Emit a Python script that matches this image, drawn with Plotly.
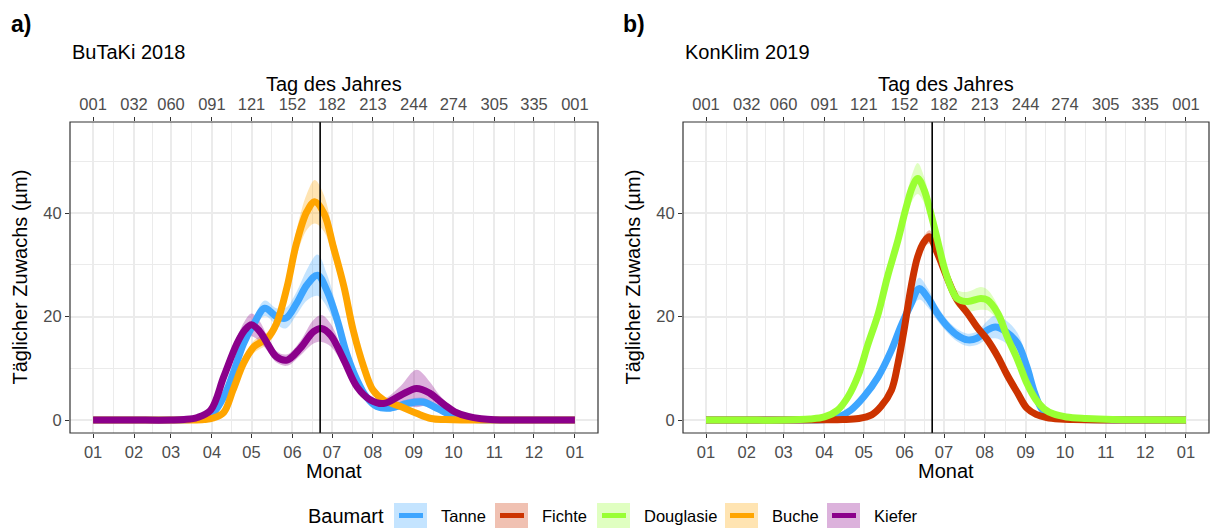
import plotly.graph_objects as go

# ---- axis labelling -------------------------------------------------------
month_start_doy = [1, 32, 60, 91, 121, 152, 182, 213, 244, 274, 305, 335, 366]
month_labels = ["01", "02", "03", "04", "05", "06", "07", "08", "09", "10", "11", "12", "01"]
doy_labels = ["001", "032", "060", "091", "121", "152", "182", "213", "244", "274", "305", "335", "001"]
y_ticks = [0, 20, 40]
y_minor = [10, 30, 50]
solstice_doy = 173

# ---- BuTaKi 2018 ----------------------------------------------------------
tanne18_doy = [1, 30, 60, 75, 85, 92, 100, 107, 115, 123, 131, 140, 147, 155, 163, 171, 178,
               186, 193, 201, 208, 216, 226, 239, 251, 262, 270, 280, 290, 305, 335, 366]
tanne18_mean = [0, 0, 0, 0.1, 0.4, 1.4, 4.5, 9.0, 14.8, 18.7, 21.6, 20.0, 19.7, 22.5, 26.1, 28.0, 25.1,
                19.3, 12.9, 7.7, 4.5, 2.6, 2.3, 3.2, 3.5, 2.2, 1.2, 0.4, 0.1, 0, 0, 0]
tanne18_se = [0, 0, 0, 0.05, 0.1, 0.3, 0.6, 0.8, 1.0, 1.2, 1.5, 1.6, 2.0, 2.2, 3.0, 4.0, 3.2,
              2.0, 1.2, 0.8, 0.6, 0.6, 0.6, 0.8, 0.8, 0.6, 0.4, 0.2, 0.1, 0, 0, 0]

buche18_doy = [1, 30, 60, 75, 85, 92, 100, 107, 115, 123, 133, 140, 148, 155, 163, 169, 176,
               183, 191, 198, 206, 213, 221, 234, 246, 257, 268, 280, 305, 335, 366]
buche18_mean = [0, 0, 0, 0, 0.1, 0.4, 1.5, 5.8, 11.0, 14.2, 15.8, 18.7, 25.8, 34.1, 40.3, 42.2, 39.9,
                33.5, 25.8, 17.4, 10.3, 5.8, 3.9, 2.6, 1.3, 0.3, 0.1, 0, 0, 0, 0]
buche18_se = [0, 0, 0, 0, 0.05, 0.1, 0.3, 0.6, 1.0, 1.2, 1.2, 1.5, 2.0, 2.5, 3.5, 4.2, 3.5,
              2.5, 1.8, 1.2, 0.8, 0.6, 0.5, 0.5, 0.3, 0.1, 0.05, 0, 0, 0, 0]

kiefer18_doy = [1, 30, 60, 70, 80, 90, 100, 110, 116, 121, 127, 133, 140, 148, 158, 168, 174,
                181, 191, 201, 211, 221, 234, 246, 256, 262, 268, 275, 285, 295, 305, 335, 366]
kiefer18_mean = [0, 0, 0, 0.1, 0.5, 1.9, 8.4, 14.8, 17.4, 18.4, 17.2, 14.8, 12.2, 11.6, 13.9, 17.1, 17.7,
                 16.4, 11.6, 6.4, 3.9, 3.2, 4.8, 6.1, 5.2, 4.0, 2.8, 1.6, 0.7, 0.25, 0.05, 0, 0]
kiefer18_se = [0, 0, 0, 0, 0.1, 0.3, 0.8, 1.2, 1.8, 2.2, 2.0, 1.4, 1.1, 1.1, 1.4, 2.3, 2.6,
               2.2, 1.2, 0.8, 0.7, 0.9, 1.8, 3.6, 2.2, 1.3, 0.8, 0.5, 0.2, 0.1, 0, 0, 0]

# ---- KonKlim 2019 ---------------------------------------------------------
tanne19_doy = [1, 30, 60, 80, 92, 101, 111, 121, 132, 142, 149, 157, 163, 170, 177, 185, 192,
               200, 207, 215, 221, 229, 238, 245, 251, 257, 266, 280, 300, 335, 366]
tanne19_mean = [0, 0, 0, 0, 0.1, 0.5, 1.9, 4.5, 8.4, 13.5, 18.0, 22.5, 25.4, 23.5, 20.6, 18.0, 16.4,
                15.5, 15.8, 17.4, 18.0, 17.1, 14.8, 10.3, 5.2, 1.9, 0.6, 0.2, 0.05, 0, 0]
tanne19_se = [0, 0, 0, 0, 0.05, 0.1, 0.2, 0.4, 0.6, 0.8, 1.0, 1.5, 2.1, 1.8, 1.4, 1.2, 1.2,
              1.2, 1.3, 1.8, 2.2, 2.2, 2.0, 1.5, 0.8, 0.4, 0.2, 0.1, 0, 0, 0]

fichte19_doy = [1, 30, 60, 91, 105, 117, 127, 134, 142, 147, 152, 157, 162, 167, 171, 177, 185,
                192, 200, 207, 215, 223, 230, 238, 245, 252, 260, 270, 280, 300, 335, 366]
fichte19_mean = [0, 0, 0, 0.05, 0.1, 0.3, 1.0, 2.6, 5.8, 11.0, 18.0, 25.8, 31.6, 34.5, 35.4, 32.2, 27.1,
                 23.2, 20.6, 18.0, 15.5, 12.2, 8.7, 5.2, 2.3, 1.1, 0.5, 0.2, 0.1, 0, 0, 0]
fichte19_se = [0, 0, 0, 0, 0.05, 0.1, 0.2, 0.3, 0.5, 0.6, 0.7, 0.8, 1.0, 1.2, 1.3, 1.1, 0.9,
               0.8, 0.8, 0.8, 0.8, 0.8, 0.7, 0.6, 0.4, 0.2, 0.1, 0.05, 0, 0, 0, 0]

douglasie19_doy = [1, 30, 60, 80, 91, 101, 109, 117, 124, 132, 139, 147, 153, 158, 162, 167, 172, 177,
                   182, 187, 192, 200, 210, 215, 223, 230, 238, 245, 252, 258, 265, 275, 290, 310, 330, 366]
douglasie19_mean = [0, 0, 0, 0.2, 0.6, 1.9, 4.5, 8.8, 14.5, 20.6, 27.7, 34.8, 40.9, 45.1, 46.7, 44.4, 39.9, 34.8,
                    29.6, 25.8, 23.5, 22.9, 23.5, 23.2, 20.6, 16.1, 11.6, 7.1, 3.9, 2.2, 1.2, 0.6, 0.3, 0.1, 0.05, 0]
douglasie19_se = [0, 0, 0, 0.05, 0.1, 0.2, 0.4, 0.6, 0.8, 1.0, 1.3, 1.6, 2.0, 2.6, 3.0, 2.5, 1.8, 1.4,
                  1.3, 1.4, 1.6, 1.9, 2.2, 2.0, 1.5, 1.0, 0.7, 0.5, 0.3, 0.2, 0.1, 0.05, 0, 0, 0, 0]

species = ["Tanne", "Fichte", "Douglasie", "Buche", "Kiefer"]
colors = {"Tanne": "#3DA5FF", "Fichte": "#CC3300", "Douglasie": "#99FF33",
          "Buche": "#FFA500", "Kiefer": "#8B008B"}
ribbon_alpha = 0.3

panels = [
    {"xa": "x", "xtop": "x2", "ya": "y", "series": [
        ("Tanne", tanne18_doy, tanne18_mean, tanne18_se),
        ("Buche", buche18_doy, buche18_mean, buche18_se),
        ("Kiefer", kiefer18_doy, kiefer18_mean, kiefer18_se)]},
    {"xa": "x3", "xtop": "x4", "ya": "y2", "series": [
        ("Tanne", tanne19_doy, tanne19_mean, tanne19_se),
        ("Fichte", fichte19_doy, fichte19_mean, fichte19_se),
        ("Douglasie", douglasie19_doy, douglasie19_mean, douglasie19_se)]},
]


def rgba(hex_color, a):
    h = hex_color.lstrip("#")
    r, g, b = int(h[0:2], 16), int(h[2:4], 16), int(h[4:6], 16)
    return f"rgba({r},{g},{b},{a})"


fig = go.Figure()
SPL = dict(shape="spline", smoothing=1.0)

for p in panels:
    # confidence ribbons first, then the mean lines on top
    for name, doy, mean, se in p["series"]:
        upper = [m + s for m, s in zip(mean, se)]
        lower = [m - s for m, s in zip(mean, se)]
        fig.add_trace(go.Scatter(x=doy, y=upper, mode="lines", line=dict(width=0, **SPL),
                                 xaxis=p["xa"], yaxis=p["ya"], showlegend=False, hoverinfo="skip"))
        fig.add_trace(go.Scatter(x=doy, y=lower, mode="lines", line=dict(width=0, **SPL),
                                 fill="tonexty", fillcolor=rgba(colors[name], ribbon_alpha),
                                 xaxis=p["xa"], yaxis=p["ya"], showlegend=False, hoverinfo="skip"))
    for name, doy, mean, se in p["series"]:
        fig.add_trace(go.Scatter(x=doy, y=mean, mode="lines", name=name,
                                 line=dict(color=colors[name], width=7, **SPL),
                                 xaxis=p["xa"], yaxis=p["ya"], showlegend=False))
    # empty trace so that the day-of-year axis on top gets rendered
    fig.add_trace(go.Scatter(x=[month_start_doy[0], month_start_doy[-1]], y=[None, None],
                             mode="lines", xaxis=p["xtop"], yaxis=p["ya"],
                             showlegend=False, hoverinfo="skip"))

W, H = 1212, 529
FONT = "Liberation Sans, Arial, Helvetica, sans-serif"
TICK_COL = "#4D4D4D"
TICK_SIZE = 16.5
GRID = "#EBEBEB"
x_range = [-16.5, 383.5]
y_range = [-2.5, 57.6]

dom_a = [70 / W, 598 / W]
dom_b = [683 / W, 1209 / W]
dom_y = [1 - 433 / H, 1 - 122 / H]

minor_x = [(a + b) / 2 for a, b in zip(month_start_doy[:-1], month_start_doy[1:])]

bottom_axis = dict(range=x_range, tickmode="array", tickvals=month_start_doy, ticktext=month_labels,
                   ticks="outside", ticklen=4, tickwidth=1.2, tickcolor="#333333",
                   tickfont=dict(family=FONT, size=TICK_SIZE, color=TICK_COL),
                   showgrid=True, gridcolor=GRID, gridwidth=1.8, zeroline=False, showline=False,
                   minor=dict(tickvals=minor_x, showgrid=True, gridcolor=GRID, gridwidth=1.2, ticks=""),
                   fixedrange=True)
top_axis = dict(range=x_range, tickmode="array", tickvals=month_start_doy, ticktext=doy_labels,
                ticks="outside", ticklen=4, tickwidth=1.2, tickcolor="#333333",
                tickfont=dict(family=FONT, size=TICK_SIZE, color=TICK_COL),
                showgrid=False, zeroline=False, showline=False, side="top")
y_axis = dict(range=y_range, tickmode="array", tickvals=y_ticks, ticks="outside", ticklen=4,
              tickwidth=1.2, tickcolor="#333333", tickfont=dict(family=FONT, size=TICK_SIZE, color=TICK_COL),
              showgrid=True, gridcolor=GRID, gridwidth=1.8, zeroline=False, showline=False,
              minor=dict(tickvals=y_minor, showgrid=True, gridcolor=GRID, gridwidth=1.2, ticks=""),
              domain=dom_y)

fig.update_layout(
    width=W, height=H, margin=dict(l=0, r=0, t=0, b=0),
    paper_bgcolor="white", plot_bgcolor="white", showlegend=False,
    font=dict(family=FONT, color="black"),
    xaxis=dict(bottom_axis, domain=dom_a, anchor="y"),
    xaxis2=dict(top_axis, overlaying="x", anchor="y"),
    xaxis3=dict(bottom_axis, domain=dom_b, anchor="y2"),
    xaxis4=dict(top_axis, overlaying="x3", anchor="y2"),
    yaxis=dict(y_axis, anchor="x"),
    yaxis2=dict(y_axis, anchor="x3"),
)


def px(x, y):
    return x / W, 1 - y / H


def note(text, x, y, size, xanchor="center", **kw):
    fx, fy = px(x, y)
    return dict(text=text, x=fx, y=fy, xref="paper", yref="paper", xanchor=xanchor,
                yanchor="middle", showarrow=False, font=dict(size=size, family=FONT, color="black"), **kw)


shapes = []
annotations = []

for dom, xa in [(dom_a, "x"), (dom_b, "x3")]:
    # reference line at the summer solstice
    shapes.append(dict(type="line", xref=xa, yref="paper", x0=solstice_doy, x1=solstice_doy,
                       y0=dom_y[0], y1=dom_y[1], line=dict(color="black", width=1.6), layer="above"))
    # panel border
    shapes.append(dict(type="rect", xref="paper", yref="paper", x0=dom[0], x1=dom[1],
                       y0=dom_y[0], y1=dom_y[1], line=dict(color="#333333", width=1.2), layer="above"))
    cx = (dom[0] + dom[1]) / 2 * W
    annotations.append(note("Monat", cx, 471, 20))
    annotations.append(note("Tag des Jahres", cx, 84, 20))

for label, sub, lx, sx, tx in [("a)", "BuTaKi 2018", 9, 70, 19), ("b)", "KonKlim 2019", 621, 683, 632)]:
    annotations.append(note(f"<b>{label}</b>", lx, 24, 23, xanchor="left"))
    annotations.append(note(sub, sx, 52, 20, xanchor="left"))
    annotations.append(note("Täglicher Zuwachs (µm)", tx, 277.5, 20, textangle=-90))

# legend drawn along the bottom edge
legend_y = 515.5
annotations.append(note("Baumart", 306, legend_y, 20, xanchor="left"))
key_left = {"Tanne": 394, "Fichte": 495, "Douglasie": 597, "Buche": 725, "Kiefer": 827}
for name in species:
    k = key_left[name]
    x0, y0 = px(k, legend_y + 12.5)
    x1, y1 = px(k + 33, legend_y - 12.5)
    shapes.append(dict(type="rect", xref="paper", yref="paper", x0=x0, x1=x1, y0=y0, y1=y1,
                       fillcolor=rgba(colors[name], ribbon_alpha), line=dict(width=0)))
    lx0, ly = px(k + 5, legend_y)
    lx1, _ = px(k + 29, legend_y)
    shapes.append(dict(type="line", xref="paper", yref="paper", x0=lx0, x1=lx1, y0=ly, y1=ly,
                       line=dict(color=colors[name], width=5)))
    annotations.append(note(name, k + 45, legend_y, 16.5, xanchor="left"))

fig.update_layout(shapes=shapes, annotations=annotations)
fig.write_html("out.html")
